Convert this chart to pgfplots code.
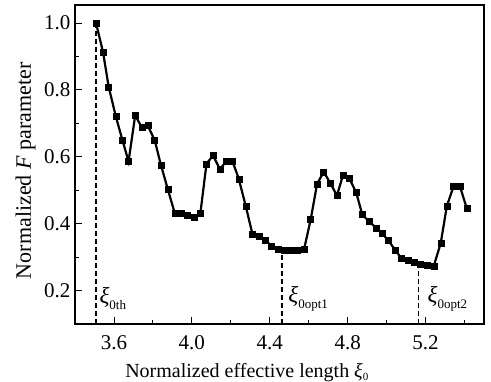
\documentclass[border=0pt]{standalone}
\usepackage{fontspec}
\setmainfont{Liberation Serif}
\usepackage{pgfplots}
\pgfplotsset{compat=1.18}
\begin{document}
\begin{tikzpicture}
\begin{axis}[
 scale only axis, width=409pt, height=319pt,
 xmin=3.4, xmax=5.5, ymin=0.1, ymax=1.054,
 xtick={3.6,4.0,4.4,4.8,5.2}, minor xtick={3.8,4.2,4.6,5.0,5.4},
 ytick={0.2,0.4,0.6,0.8,1.0}, minor ytick={0.3,0.5,0.7,0.9},
 tick align=inside, xtick pos=bottom, ytick pos=left,
 major tick length=7pt, minor tick length=4pt,
 tick style={black, line width=0.9pt},
 axis line style={line width=1.1pt},
 /pgf/number format/assume math mode=true,
 /pgf/number format/fixed, /pgf/number format/fixed zerofill, /pgf/number format/precision=1,
 ticklabel style={font=\fontsize{21}{21}\selectfont},
 xticklabel style={yshift=-8pt},
 yticklabel style={xshift=-1pt},
 xlabel={Normalized effective length \textit{ξ}\raisebox{-0.35ex}{\fontsize{11}{11}\selectfont 0}},
 xlabel style={font=\fontsize{20}{20}\selectfont, at={(axis description cs:0.42,0)}, anchor=north, yshift=-36pt},
 ylabel={Normalized \textit{F} parameter},
 ylabel style={font=\fontsize{22}{22}\selectfont, at={(axis description cs:0,0.48)}, anchor=south, xshift=0pt, yshift=36pt},
]
\addplot[black, line width=2.2pt, mark=square*, mark size=3pt, mark options={line width=0.5pt}] coordinates {
(3.508,1.000) (3.544,0.913) (3.573,0.809) (3.610,0.720) (3.643,0.651) (3.675,0.586)
(3.709,0.724) (3.744,0.687) (3.774,0.693) (3.809,0.650) (3.841,0.576) (3.877,0.502)
(3.913,0.430) (3.947,0.430) (3.976,0.426) (4.010,0.419) (4.044,0.432) (4.075,0.579)
(4.109,0.604) (4.144,0.563) (4.176,0.586) (4.209,0.586) (4.241,0.534) (4.277,0.452)
(4.311,0.369) (4.345,0.361) (4.378,0.349) (4.410,0.334) (4.443,0.324) (4.473,0.321)
(4.508,0.321) (4.542,0.321) (4.576,0.323) (4.610,0.412) (4.643,0.519) (4.677,0.555)
(4.711,0.521) (4.745,0.484) (4.776,0.545) (4.807,0.537) (4.844,0.493) (4.875,0.427)
(4.909,0.407) (4.947,0.387) (4.978,0.370) (5.010,0.349) (5.043,0.322) (5.077,0.296)
(5.110,0.290) (5.142,0.285) (5.174,0.280) (5.208,0.277) (5.242,0.273) (5.278,0.342)
(5.309,0.452) (5.343,0.511) (5.377,0.511) (5.412,0.445)
};
\addplot[black, line width=1.1pt, dash pattern=on 5pt off 3pt] coordinates {(3.508,0.1) (3.508,1.0)};
\addplot[black, line width=1.1pt, dash pattern=on 5pt off 3pt] coordinates {(4.463,0.1) (4.463,0.322)};
\addplot[black, line width=1.1pt, dash pattern=on 5pt off 3pt] coordinates {(5.164,0.1) (5.164,0.281)};
\node[anchor=west, inner sep=0pt] at (axis cs:3.525,0.176) {\fontsize{23}{23}\selectfont\textit{ξ}\raisebox{-0.6ex}{\fontsize{13}{13}\selectfont 0th}};
\node[anchor=west, inner sep=0pt] at (axis cs:4.495,0.176) {\fontsize{23}{23}\selectfont\textit{ξ}\raisebox{-0.6ex}{\fontsize{13}{13}\selectfont 0opt1}};
\node[anchor=west, inner sep=0pt] at (axis cs:5.21,0.176) {\fontsize{23}{23}\selectfont\textit{ξ}\raisebox{-0.6ex}{\fontsize{13}{13}\selectfont 0opt2}};
\end{axis}
\pgfresetboundingbox
\useasboundingbox ([shift={(-75pt,-58pt)}]current axis.south west) rectangle ([shift={(7pt,5pt)}]current axis.north east);
\end{tikzpicture}
\end{document}
